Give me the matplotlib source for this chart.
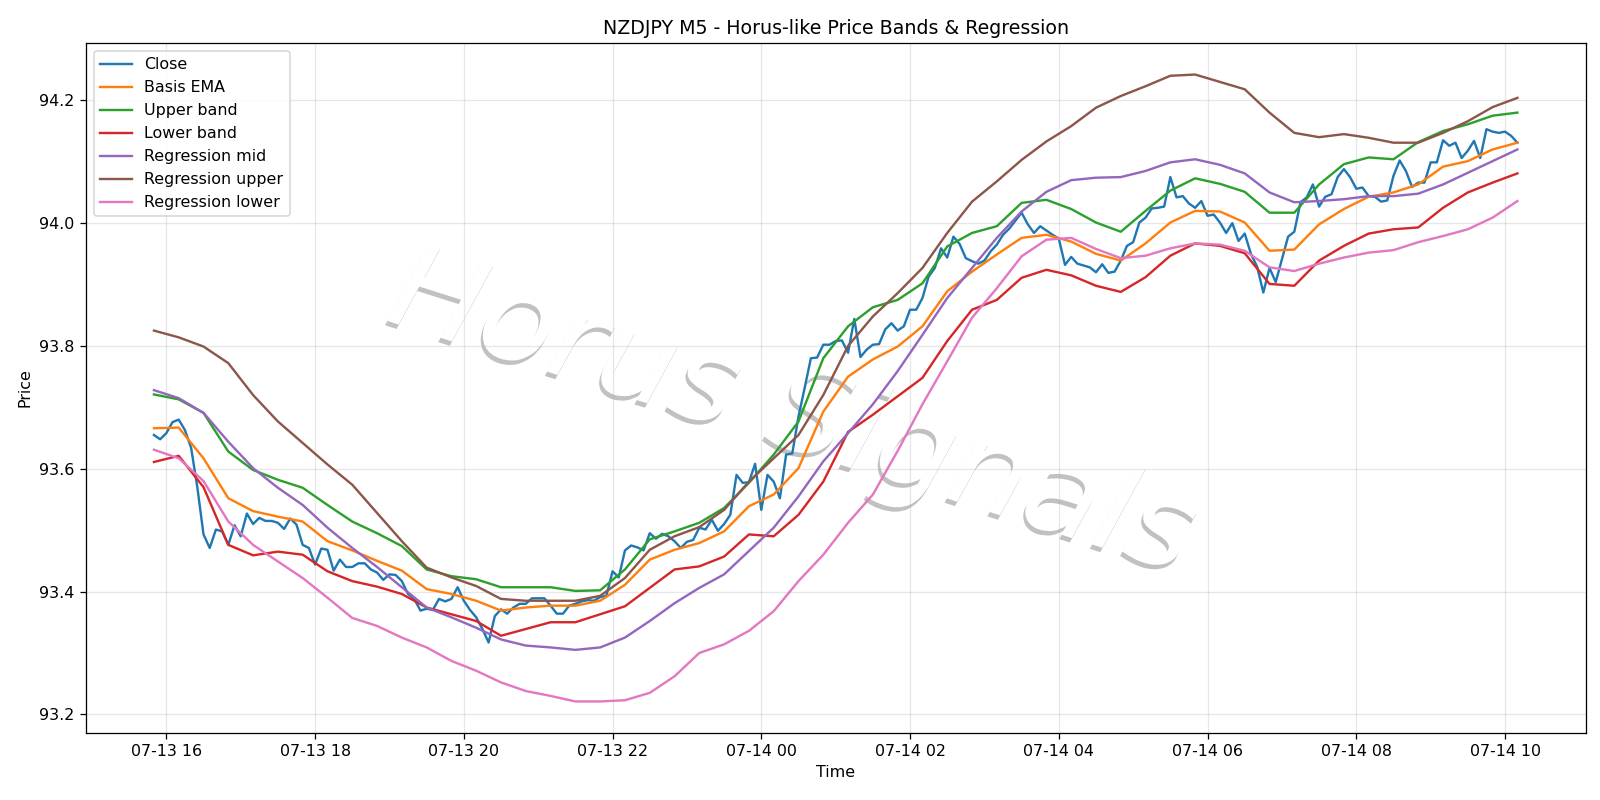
import matplotlib
matplotlib.use("Agg")
import matplotlib.pyplot as plt
import matplotlib.dates as mdates
import matplotlib.patheffects as pe
import pandas as pd

# 5-minute bars, NZDJPY
close = [
    93.655, 93.648, 93.658, 93.676, 93.680, 93.663, 93.634, 93.570, 93.493, 93.471,
    93.501, 93.498, 93.476, 93.508, 93.490, 93.527, 93.510, 93.520, 93.515, 93.515,
    93.512, 93.502, 93.519, 93.509, 93.476, 93.471, 93.444, 93.470, 93.468, 93.434,
    93.452, 93.440, 93.440, 93.446, 93.446, 93.436, 93.431, 93.419, 93.428, 93.427,
    93.417, 93.396, 93.388, 93.369, 93.372, 93.370, 93.388, 93.384, 93.388, 93.407,
    93.385, 93.370, 93.358, 93.339, 93.317, 93.360, 93.371, 93.364, 93.374, 93.380,
    93.380, 93.389, 93.389, 93.389, 93.377, 93.364, 93.364, 93.377, 93.380, 93.384,
    93.386, 93.385, 93.391, 93.393, 93.433, 93.423, 93.467, 93.475, 93.472, 93.467,
    93.495, 93.486, 93.494, 93.490, 93.482, 93.471, 93.481, 93.484, 93.504, 93.501,
    93.517, 93.499, 93.510, 93.525, 93.590, 93.577, 93.578, 93.608, 93.533, 93.590,
    93.579, 93.552, 93.623, 93.625, 93.685, 93.732, 93.780, 93.781, 93.802, 93.802,
    93.808, 93.809, 93.789, 93.844, 93.782, 93.794, 93.802, 93.803, 93.827, 93.837,
    93.825, 93.832, 93.859, 93.859, 93.878, 93.913, 93.927, 93.959, 93.944, 93.978,
    93.966, 93.943, 93.938, 93.934, 93.939, 93.954, 93.965, 93.981, 93.991, 94.004,
    94.017, 93.998, 93.984, 93.995, 93.988, 93.981, 93.975, 93.932, 93.945, 93.934,
    93.931, 93.928, 93.920, 93.933, 93.919, 93.921, 93.939, 93.963, 93.969, 94.001,
    94.009, 94.024, 94.025, 94.027, 94.075, 94.042, 94.044, 94.032, 94.025, 94.036,
    94.012, 94.014, 94.001, 93.984, 94.000, 93.971, 93.983, 93.950, 93.929, 93.887,
    93.927, 93.904, 93.941, 93.978, 93.986, 94.034, 94.042, 94.063, 94.027, 94.043,
    94.047, 94.075, 94.088, 94.075, 94.056, 94.058, 94.044, 94.043, 94.035, 94.037,
    94.077, 94.102, 94.085, 94.059, 94.066, 94.066, 94.099, 94.099, 94.135, 94.126,
    94.131, 94.106, 94.118, 94.134, 94.106, 94.153, 94.149, 94.147, 94.149, 94.142,
    94.131,
]

# bands / regression, read every 4th bar (20 min)
basis_ema = [
    93.666, 93.667, 93.617, 93.552, 93.531, 93.522, 93.514, 93.482, 93.467, 93.450,
    93.434, 93.404, 93.396, 93.385, 93.369, 93.374, 93.377, 93.377, 93.385,
    93.411, 93.452, 93.468, 93.479, 93.498, 93.539, 93.558, 93.601, 93.693, 93.750,
    93.778, 93.799, 93.832, 93.889, 93.921, 93.949, 93.976, 93.981, 93.970,
    93.950, 93.939, 93.967, 94.001, 94.020, 94.019, 94.001, 93.955, 93.957,
    93.998, 94.023, 94.043, 94.050, 94.063, 94.092, 94.101, 94.120, 94.131,
]
upper_band = [
    93.721, 93.713, 93.691, 93.628, 93.598, 93.582, 93.569, 93.541, 93.514, 93.495,
    93.474, 93.436, 93.425, 93.420, 93.407, 93.407, 93.407, 93.401, 93.402,
    93.436, 93.485, 93.498, 93.512, 93.536, 93.577, 93.623, 93.677, 93.780, 93.832,
    93.863, 93.875, 93.902, 93.962, 93.984, 93.995, 94.033, 94.038, 94.023,
    94.001, 93.986, 94.020, 94.053, 94.073, 94.064, 94.051, 94.017, 94.017,
    94.063, 94.096, 94.107, 94.104, 94.132, 94.150, 94.161, 94.175, 94.180,
]
lower_band = [
    93.611, 93.621, 93.570, 93.476, 93.459, 93.465, 93.460, 93.433, 93.417, 93.408,
    93.396, 93.374, 93.363, 93.352, 93.328, 93.339, 93.350, 93.350, 93.363,
    93.376, 93.406, 93.436, 93.441, 93.457, 93.493, 93.490, 93.525, 93.579, 93.660,
    93.688, 93.718, 93.748, 93.808, 93.859, 93.875, 93.911, 93.924, 93.915,
    93.898, 93.888, 93.912, 93.947, 93.967, 93.963, 93.951, 93.901, 93.898,
    93.939, 93.963, 93.983, 93.990, 93.993, 94.025, 94.050, 94.066, 94.081,
]
reg_mid = [
    93.728, 93.715, 93.691, 93.644, 93.601, 93.569, 93.541, 93.504, 93.471, 93.440,
    93.407, 93.374, 93.358, 93.341, 93.322, 93.312, 93.309, 93.305, 93.309,
    93.325, 93.352, 93.381, 93.406, 93.428, 93.466, 93.504, 93.555, 93.612, 93.658,
    93.705, 93.759, 93.818, 93.878, 93.927, 93.976, 94.019, 94.051, 94.070,
    94.074, 94.075, 94.085, 94.099, 94.104, 94.095, 94.081, 94.050, 94.034,
    94.036, 94.039, 94.044, 94.044, 94.048, 94.063, 94.082, 94.101, 94.120,
]
reg_upper = [
    93.825, 93.814, 93.799, 93.772, 93.720, 93.677, 93.642, 93.607, 93.574, 93.528,
    93.482, 93.439, 93.423, 93.409, 93.388, 93.385, 93.385, 93.385, 93.393,
    93.422, 93.468, 93.490, 93.505, 93.533, 93.579, 93.617, 93.655, 93.720, 93.800,
    93.848, 93.886, 93.927, 93.984, 94.035, 94.068, 94.103, 94.133, 94.158,
    94.188, 94.207, 94.223, 94.240, 94.242, 94.230, 94.218, 94.180, 94.147,
    94.140, 94.145, 94.139, 94.131, 94.131, 94.147, 94.166, 94.189, 94.204,
]
reg_lower = [
    93.631, 93.617, 93.580, 93.514, 93.476, 93.449, 93.422, 93.390, 93.357, 93.344,
    93.325, 93.309, 93.287, 93.271, 93.252, 93.238, 93.230, 93.221, 93.221,
    93.223, 93.235, 93.262, 93.300, 93.314, 93.336, 93.368, 93.417, 93.460, 93.512,
    93.558, 93.629, 93.705, 93.775, 93.846, 93.894, 93.946, 93.973, 93.976,
    93.958, 93.943, 93.947, 93.959, 93.967, 93.965, 93.955, 93.928, 93.922,
    93.934, 93.944, 93.952, 93.956, 93.969, 93.979, 93.990, 94.009, 94.036,
]

times = pd.date_range("2025-07-13 15:50", periods=len(close), freq="5min")
t4 = times[::4]

fig, ax = plt.subplots(figsize=(14, 7), dpi=1600 / 14)
fig.subplots_adjust(left=0.0536, right=0.991, top=0.946, bottom=0.084)

ax.plot(times, close, label="Close")
ax.plot(t4, basis_ema, label="Basis EMA")
ax.plot(t4, upper_band, label="Upper band")
ax.plot(t4, lower_band, label="Lower band")
ax.plot(t4, reg_mid, label="Regression mid")
ax.plot(t4, reg_upper, label="Regression upper")
ax.plot(t4, reg_lower, label="Regression lower")

# watermark
ax.text(0.471, 0.462, "Horus Signals", transform=ax.transAxes, fontsize=77,
        style="italic", rotation=-17.6, ha="center", va="center", color="white", zorder=0,
        path_effects=[pe.SimplePatchShadow(offset=(-1.3, -2.8), shadow_rgbFace="0.4", alpha=0.4),
                      pe.Normal()])

ax.xaxis.set_major_locator(mdates.HourLocator(interval=2))
ax.xaxis.set_major_formatter(mdates.DateFormatter("%m-%d %H"))
ax.grid(True, alpha=0.3)
ax.set_title("NZDJPY M5 - Horus-like Price Bands & Regression")
ax.set_xlabel("Time")
ax.set_ylabel("Price")
ax.legend(loc="upper left")

fig.savefig("out.png")
